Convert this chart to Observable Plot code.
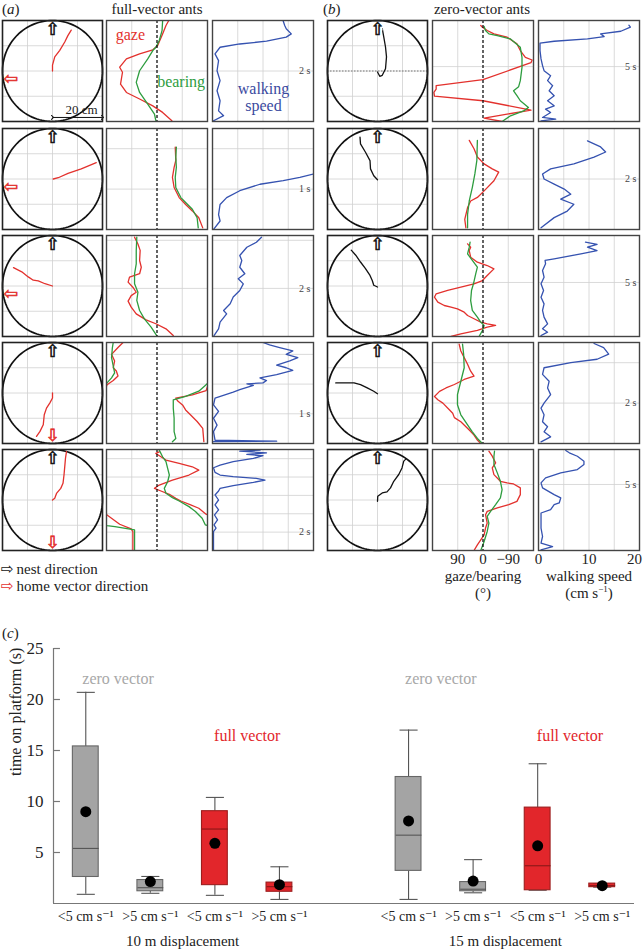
<!DOCTYPE html>
<html><head><meta charset="utf-8">
<script src="https://cdn.jsdelivr.net/npm/d3@7"></script>
<script src="https://cdn.jsdelivr.net/npm/@observablehq/plot@0.6"></script>
<style>
body{margin:0;background:#fff;}
#root{position:relative;width:643px;height:949px;overflow:hidden;font-family:"Liberation Serif","DejaVu Serif",serif;color:#222;background:#fff;}
.lbl{position:absolute;transform:translate(-50%,-50%);white-space:nowrap;line-height:1;}
.lft{position:absolute;transform:translate(0,-50%);white-space:nowrap;line-height:1;}
.arw{font-family:"DejaVu Sans",sans-serif;display:inline-block;margin-right:3px;}
</style></head><body><div id="root"></div><script>
// ---------- panel (a): full-vector ants ----------
const aDur = [4, 2.5, 4.2, 3.4, 11];
const aStep = [2, 1, 2, 1, 2];
const aHomeDir = [190, 190, 190, 270, 270];
const aTraj1 = [[0,0],[0,2.3],[0.9,5.6],[2.9,8.2],[4.9,11.5],[6.2,14.1],[7.5,16.2]];
const aTraj2 = [[0.3,0],[2.3,0.5],[6.2,2.2],[11.5,4.0],[17.5,6.5]];
const aTraj3 = [[0,0],[-3.0,0.9],[-5.7,2.0],[-7.7,2.3],[-9.7,3.6],[-12.3,5.6],[-15.6,7.3]];
const aTraj4 = [[0,0],[0,-2.0],[-1.1,-4.0],[-2.4,-6.0],[-3.3,-8.6],[-3.7,-12.6],[-5.0,-15.2],[-6.4,-17.2]];
const aTraj5 = [[0,0],[0.9,0.7],[1.6,2.6],[3.3,4.6],[4.2,6.6],[4.6,9.9],[4.9,13.2],[5.2,16.6],[5.6,19.2]];
// [time s, angle deg]
const aGaze1 = [[0.03,-53],[0.36,-20],[0.62,15],[0.89,62],[1.15,109],[1.48,130],[1.95,123],[2.15,133],[2.48,109],[2.68,62],[2.84,15],[3.0,-2],[3.47,-20],[3.8,-32],[3.98,-41]];
const aBear1 = [[0.03,4],[0.29,9],[0.69,33],[1.15,62],[1.55,74],[2.01,62],[2.48,33],[2.81,15],[2.94,4],[3.21,-8],[3.6,-18],[3.98,-20]];
const aGaze2 = [[0.04,-163],[0.29,-149],[0.46,-126],[0.62,-102],[0.79,-79],[1.04,-61],[1.29,-55],[1.54,-61],[1.71,-67],[2.04,-65]];
const aBear2 = [[0.04,-147],[0.29,-143],[0.5,-126],[0.67,-102],[0.79,-85],[1.04,-67],[1.29,-65],[1.54,-69],[1.79,-67],[2.04,-69]];
const aGaze3 = [[0.04,-58],[0.32,-32],[0.53,4],[0.69,39],[0.94,74],[1.22,92],[1.47,103],[1.70,92],[1.84,74],[2.05,86],[2.26,103],[2.47,98],[2.61,62],[2.88,56],[3.16,62],[3.58,60],[3.85,68],[4.13,80]];
const aBear3 = [[0.04,1],[0.39,21],[0.73,45],[1.08,62],[1.50,72],[1.84,68],[2.19,80],[2.61,80],[3.02,74],[3.58,74],[4.13,72]];
const aGaze4 = [[0.06,-167],[0.51,-163],[0.74,-143],[0.96,-120],[1.13,-102],[1.30,-91],[1.44,-73],[1.53,-67],[1.64,-126],[1.78,-175],[1.98,178],[2.12,156],[2.27,139],[2.44,145],[2.55,156],[2.78,151],[3.0,162],[3.23,139],[3.4,121]];
const aBear4 = [[0.06,-55],[0.17,-67],[0.40,-61],[0.85,-61],[1.19,-58],[1.47,-58],[1.59,-102],[1.76,-149],[1.98,-175],[2.04,178],[2.21,162],[2.38,151],[2.61,156],[2.89,162],[3.23,159],[3.4,156]];
const aGaze5 = [[0.07,86],[2.06,86],[2.35,92],[2.86,133],[3.87,178],[3.95,-175],[4.60,-149],[4.96,-120],[5.39,-85],[5.68,-67],[6.12,-44],[6.48,-14],[6.77,9],[7.13,-8],[7.67,-55],[8.22,-114],[8.76,-149],[9.12,-126],[9.48,-79],[9.85,-32],[10.21,-14],[10.57,4],[10.75,-8]];
const aBear5 = [[0.07,80],[2.24,80],[2.6,150],[2.72,178],[2.8,-172],[3.51,-161],[4.24,-137],[4.78,-114],[5.39,-79],[5.76,-55],[6.23,-32],[6.77,-26],[7.49,-38],[8.22,-44],[8.94,-38],[9.67,-32],[10.21,-20],[10.93,-8]];
// [time s, speed cm/s]
const aSpeed1 = [[0.03,0.2],[0.23,2.2],[0.42,1.2],[0.82,1.5],[1.22,0.9],[1.62,1.5],[2.01,0.9],[2.41,1.2],[2.68,0.5],[2.94,1.5],[3.07,5.4],[3.18,10.7],[3.34,14.6],[3.47,15.6],[3.67,14.6],[3.8,14.3],[3.98,14.0]];
const aSpeed2 = [[0,0.2],[0.21,1.5],[0.37,1.2],[0.62,1.5],[0.79,2.8],[0.96,5.4],[1.12,9.4],[1.21,14.0],[1.29,17.3],[1.39,20.5]];
const aSpeed3 = [[0.04,0.3],[0.32,1.2],[0.6,1.5],[0.94,2.8],[1.08,2.2],[1.36,3.5],[1.64,4.1],[1.91,5.4],[2.19,6.1],[2.40,5.1],[2.61,6.4],[2.88,5.4],[3.16,5.8],[3.37,5.4],[3.71,6.8],[3.92,8.7],[4.13,9.7]];
const aSpeed4 = [[0.06,0.2],[0.08,12.7],[0.11,0.5],[0.40,0.2],[0.62,0.9],[0.85,0.2],[1.08,1.2],[1.30,0.2],[1.53,0.5],[1.73,4.1],[1.81,5.4],[1.96,8.1],[2.01,6.8],[2.04,10.0],[2.12,10.7],[2.21,9.4],[2.32,12.7],[2.38,14.0],[2.46,15.9],[2.55,14.6],[2.64,12.7],[2.78,15.3],[2.89,16.9],[3.0,14.6],[3.12,15.9],[3.23,13.3],[3.32,11.3],[3.4,10.0]];
const aSpeed5 = [[0.07,0.2],[2.06,0.2],[2.43,0.7],[2.79,0.3],[3.33,1.0],[3.87,0.4],[4.42,1.2],[4.96,0.5],[5.50,1.2],[6.05,0.5],[6.48,1.2],[6.77,1.5],[7.06,4.1],[7.42,8.1],[7.67,10.4],[7.86,8.7],[8.04,4.1],[8.22,1.5],[8.51,0.5],[9.01,0.2],[9.30,1.5],[9.67,4.1],[10.03,8.1],[10.32,10.0],[10.46,6.8],[10.64,10.7],[10.82,5.4],[10.93,9.4]];

// ---------- panel (b): zero-vector ants ----------
const bDur = [9.2, 4, 9.35, 5.0, 7.65];
const bStep = [5, 2, 5, 2, 5];
const bTraj1 = [[0,-0.4],[0.9,-2.1],[1.9,-1.7],[3.2,0.9],[3.6,5.6],[3.2,9.5],[2.5,13.5],[1.9,16.8]];
const bTraj2 = [[0,-0.3],[-1.5,1.3],[-2.8,4.0],[-3.0,7.3],[-4.8,10.6],[-6.8,13.9],[-7.0,16.6]];
const bTraj3 = [[0,-0.4],[-1.5,0.3],[-2.1,2.2],[-3.0,4.2],[-4.8,6.9],[-6.8,9.5],[-8.7,12.2],[-10.5,14.2]];
const bTraj4 = [[0,-0.3],[-1.5,0.7],[-4.1,2.0],[-6.8,3.3],[-9.4,4.0],[-12.1,4.0],[-14.7,4.0],[-16.7,4.0]];
const bTraj5 = [[0,-0.5],[0.1,1.5],[1.9,2.8],[3.8,3.2],[5.2,4.8],[6.5,7.4],[8.5,10.1],[9.8,12.7],[10.5,15.4],[11.5,16.4]];
const bGaze1 = [[0,-68],[0.30,-4],[0.67,-86],[1.04,-171],[1.89,0],[2.31,173],[2.65,175],[2.95,167],[3.26,167],[3.81,0],[5.36,-171],[5.60,-175],[5.85,-151],[6.46,-133],[7.07,-121],[7.68,-86],[7.98,-39],[8.29,-15],[8.59,2],[8.74,8]];
const bBear1 = [[0,-68],[0.52,-98],[0.97,-145],[1.28,-162],[1.89,-133],[2.35,-121],[2.80,-109],[3.17,-127],[3.72,-133],[4.93,-139],[5.85,-139],[6.76,-133],[7.52,-98],[7.83,-51],[7.98,-21],[8.29,-9],[8.65,-4]];
const bGaze2 = [[0.07,61],[0.4,65],[0.87,55],[1.13,44],[1.27,20],[1.53,-4],[1.93,-39],[2.27,-56],[2.4,-33],[2.6,-4],[2.87,20],[3.2,32],[3.53,49]];
const bBear2 = [[0.07,55],[0.6,55],[1.13,49],[1.67,38],[2.2,29],[2.73,22],[3.53,20]];
const bGaze3 = [[0,114],[0.25,79],[0.56,20],[0.86,-15],[1.02,-45],[1.17,-15],[1.33,8],[1.64,32],[1.94,55],[2.25,67],[2.56,91],[2.72,114],[2.87,138],[3.18,161],[3.64,173],[3.95,167],[4.26,126],[4.57,79],[4.88,32],[5.18,2],[5.65,-15],[6.26,-39],[6.57,-15],[6.88,20],[7.34,44],[7.96,49],[8.27,44],[8.58,55]];
const bBear3 = [[0,14],[0.56,2],[1.02,-4],[1.33,8],[1.79,20],[2.41,38],[3.33,44],[4.26,41],[4.88,34],[5.80,26],[6.42,20],[7.04,38],[7.65,55],[8.27,49],[8.73,46]];
const bGaze4 = [[0,8],[0.17,20],[0.42,32],[0.67,49],[1.08,79],[1.28,102],[1.5,108],[1.67,120],[2.0,143],[2.17,161],[2.33,173],[2.58,155],[2.75,132],[2.92,102],[3.17,67],[3.33,32],[3.58,44],[3.92,55],[4.25,67],[4.58,79],[4.92,85]];
const bBear4 = [[0,2],[0.25,20],[0.58,38],[0.92,55],[1.42,79],[1.92,91],[2.42,91],[3.08,79],[3.75,67],[4.42,69],[4.92,73]];
const bGaze5 = [[0,32],[0.43,20],[0.81,8],[1.19,-4],[1.70,-9],[2.08,-15],[2.71,-9],[2.96,-15],[3.22,-51],[3.47,-92],[3.72,-121],[4.23,-133],[4.74,-133],[5.04,-109],[5.12,-86],[5.24,-62],[5.75,-39],[6.26,-33],[6.64,-45],[7.14,-33],[7.52,-21]];
const bBear5 = [[0,8],[0.68,-4],[1.44,-15],[2.08,-21],[2.58,-15],[2.96,-27],[3.47,-45],[3.98,-62],[4.61,-68],[5.24,-62],[5.88,-51],[6.51,-39],[7.14,-39],[7.52,-41]];
const bSpeed1 = [[0.06,0.5],[0.21,3.4],[0.37,0.8],[0.82,2.4],[1.13,1.4],[1.43,3.1],[1.89,1.8],[2.35,3.1],[2.80,2.1],[3.26,2.8],[3.72,1.8],[4.17,2.4],[4.63,1.1],[5.09,0.8],[5.70,0.5],[6.46,0.3],[7.13,0.3],[7.31,3.1],[7.52,9.7],[7.74,13.0],[7.98,12.3],[8.22,16.3],[8.59,18.2],[8.77,17.9]];
const bSpeed2 = [[0.07,0.5],[0.47,3.1],[0.73,5.7],[1.0,7.0],[1.2,4.4],[1.4,6.4],[1.6,5.1],[1.8,3.1],[2.0,1.1],[2.2,0.8],[2.4,2.4],[2.6,7.0],[2.87,11.0],[3.07,13.3],[3.27,12.3],[3.51,9.7]];
const bSpeed3 = [[0.09,0.5],[0.4,1.8],[0.71,0.8],[1.17,1.8],[1.79,1.1],[2.41,0.8],[3.02,1.1],[3.64,0.5],[4.26,1.0],[4.88,0.5],[5.49,1.1],[6.11,0.8],[6.73,1.4],[7.04,1.3],[7.19,3.1],[7.65,8.4],[7.96,11.6],[8.27,9.7],[8.52,11.6],[8.73,9.3]];
const bSpeed4 = [[0.08,0.5],[0.33,2.4],[0.58,1.1],[0.83,1.8],[1.08,0.8],[1.42,1.1],[1.75,0.5],[2.0,1.1],[2.42,2.4],[2.75,1.8],[3.08,2.1],[3.42,0.8],[3.75,1.1],[4.0,6.4],[4.17,11.6],[4.42,13.9],[4.75,12.9],[4.95,11.0]];
const bSpeed5 = [[0.05,0.5],[0.3,2.8],[0.56,0.5],[1.06,0.8],[1.70,0.5],[2.46,0.5],[2.84,0.5],[3.09,2.4],[3.47,3.1],[3.60,4.1],[3.98,4.4],[4.23,3.1],[4.74,0.8],[5.12,0.5],[5.50,1.4],[5.88,4.4],[6.13,7.7],[6.51,9.0],[6.76,9.0],[7.14,7.7],[7.40,6.1],[7.57,5.4]];

// ---------- panel (c): time on platform ----------
const boxDisp   = ["10 m displacement","10 m displacement","10 m displacement","10 m displacement","15 m displacement","15 m displacement","15 m displacement","15 m displacement"];
const boxVector = ["zero","zero","full","full","zero","zero","full","full"];
const boxSpeed  = ["<5 cm s⁻¹",">5 cm s⁻¹","<5 cm s⁻¹",">5 cm s⁻¹","<5 cm s⁻¹",">5 cm s⁻¹","<5 cm s⁻¹",">5 cm s⁻¹"];
const boxLow  = [0.9, 1.0, 0.8, 0.4, 0.4, 1.05, 1.3, 1.6];
const boxQ1   = [2.6, 1.2, 1.8, 1.15, 3.2, 1.2, 1.3, 1.6];
const boxMed  = [5.4, 1.55, 7.3, 1.65, 6.7, 1.4, 3.7, 1.75];
const boxQ3   = [15.4, 2.3, 9.05, 2.05, 12.4, 2.1, 9.4, 1.95];
const boxHigh = [20.7, 2.65, 10.4, 3.6, 17.0, 4.3, 13.7, 1.95];
const boxMean = [9.0, 2.15, 5.9, 1.85, 8.1, 2.2, 5.65, 1.75];
const yTicksC = [5, 10, 15, 20, 25];

// ---------- drawing ----------
const FONT = '"Liberation Serif","DejaVu Serif",serif';
const AFONT = '"DejaVu Sans",sans-serif';
const RED = "#e3312d", GREEN = "#2e9d3f", BLUE = "#3552b0", GRID = "#d0d0d0";
const root = document.getElementById("root");
function place(node, left, top){ node.style.position="absolute"; node.style.left=left+"px"; node.style.top=top+"px"; root.appendChild(node); }
function label(html, x, y, size, cls, color, extra){ const d=document.createElement("div"); d.className=cls||"lbl"; d.innerHTML=html; d.style.left=x+"px"; d.style.top=y+"px"; d.style.fontSize=size+"px"; d.style.color=color||"#222"; if(extra) d.style.cssText+=extra; root.appendChild(d); }

function wrapSplit(pairs){
  const out=[]; let seg=0;
  pairs.forEach(([t,v],i)=>{
    if(i>0){
      const [t0,v0]=pairs[i-1];
      if(Math.abs(v-v0)>180){
        const e=v0<0?-180:180, va=v0<0?v-360:v+360;
        const tm=t0+(e-v0)/(va-v0)*(t-t0);
        out.push({t:tm,v:e,seg}); seg++; out.push({t:tm,v:-e,seg});
      }
    }
    out.push({t,v,seg});
  });
  return out;
}
const ring = d3.range(0,361,3).map(a=>({x:20*Math.cos(a*Math.PI/180), y:20*Math.sin(a*Math.PI/180)}));
const style = {"font-family":FONT, "overflow":"visible", "background":"transparent", "color":"#222"};
const tickList = (T,s)=>d3.range(s, T-1e-6, s);

function circlePlot(traj, color, homeDir, extra){
  const nest=[{x:16.5*Math.cos(Math.PI/2), y:16.5*Math.sin(Math.PI/2)}];
  const home=homeDir==null?[]:[{x:17*Math.cos(homeDir*Math.PI/180), y:17*Math.sin(homeDir*Math.PI/180)}];
  const homeGlyph = homeDir===270?"⇩":"⇦";
  return Plot.plot({width:102,height:103,margin:1,x:{domain:[-20,20],axis:null},y:{domain:[-20,20],axis:null},style,
    marks:[
      Plot.gridX([-10,0,10],{stroke:GRID,strokeOpacity:1,strokeWidth:0.8}),
      Plot.gridY([-10,0,10],{stroke:GRID,strokeOpacity:1,strokeWidth:0.8}),
      ...(extra&&extra.before||[]),
      Plot.line(ring,{x:"x",y:"y",stroke:"#111",strokeWidth:1.7}),
      Plot.line(traj,{x:d=>d[0],y:d=>d[1],stroke:color,strokeWidth:1.3}),
      Plot.dot(nest,{x:"x",y:"y",r:5,fill:"white"}),
      Plot.text(nest,{x:"x",y:"y",text:()=>"⇧",fill:"#111",stroke:"#111",strokeWidth:0.6,fontSize:17,fontFamily:AFONT}),
      Plot.dot(home,{x:"x",y:"y",r:5,fill:"white"}),
      Plot.text(home,{x:"x",y:"y",text:()=>homeGlyph,fill:RED,stroke:RED,strokeWidth:0.6,fontSize:17,fontFamily:AFONT}),
      ...(extra&&extra.after||[]),
      Plot.frame({stroke:"#222",strokeWidth:1.6})
    ]});
}
function gazePlot(T, step, gaze, bear, extra, axis){
  return Plot.plot({width:103,height:axis?122:103,marginTop:1,marginLeft:1,marginRight:1,marginBottom:axis?20:1,
    x:axis?{domain:[180,-180],label:null}:{domain:[180,-180],axis:null}, y:{domain:[0,T],axis:null}, style,
    marks:[
      Plot.gridX([90,-90],{stroke:GRID,strokeOpacity:1,strokeWidth:0.8}),
      Plot.gridY(tickList(T,step),{stroke:GRID,strokeOpacity:1,strokeWidth:0.8}),
      Plot.line(wrapSplit(gaze),{x:"v",y:"t",z:"seg",stroke:RED,strokeWidth:1.3,clip:true}),
      Plot.line(wrapSplit(bear),{x:"v",y:"t",z:"seg",stroke:GREEN,strokeWidth:1.3,clip:true}),
      Plot.ruleX([0],{stroke:"#111",strokeDasharray:"3,2",strokeWidth:1.3}),
      Plot.frame({stroke:"#444",strokeWidth:1.4}),
      ...(extra||[]),
      axis?Plot.axisX([90,0,-90],{label:null,tickSize:0,tickPadding:3,fontSize:15,fill:"#222",tickFormat:d=>d<0?"−"+(-d):String(d)}):null
    ]});
}
function speedPlot(T, step, speed, extra, axis){
  return Plot.plot({width:103,height:axis?122:103,marginTop:1,marginLeft:1,marginRight:1,marginBottom:axis?20:1,
    x:axis?{domain:[0,20],label:null}:{domain:[0,20],axis:null}, y:{domain:[0,T],axis:null}, style,
    marks:[
      Plot.gridX([5,10,15],{stroke:GRID,strokeOpacity:1,strokeWidth:0.8}),
      Plot.gridY(tickList(T,step),{stroke:GRID,strokeOpacity:1,strokeWidth:0.8}),
      Plot.line(speed,{x:d=>d[1],y:d=>d[0],stroke:BLUE,strokeWidth:1.3,clip:true}),
      Plot.text([step],{y:d=>d,frameAnchor:"right",text:d=>d+" s",textAnchor:"end",dx:-3,fontSize:10,fill:"#444"}),
      Plot.frame({stroke:"#444",strokeWidth:1.4}),
      ...(extra||[]),
      axis?Plot.axisX([0,10],{label:null,tickSize:0,tickPadding:3,fontSize:15,fill:"#222"}):null,
      axis?Plot.axisX([20],{label:null,tickSize:0,tickPadding:3,fontSize:15,fill:"#222",dx:-5}):null
    ]});
}

const rowTop = [20,128,235,342,449];
const aT=[aTraj1,aTraj2,aTraj3,aTraj4,aTraj5], aG=[aGaze1,aGaze2,aGaze3,aGaze4,aGaze5], aB=[aBear1,aBear2,aBear3,aBear4,aBear5], aS=[aSpeed1,aSpeed2,aSpeed3,aSpeed4,aSpeed5];
const bT=[bTraj1,bTraj2,bTraj3,bTraj4,bTraj5], bG=[bGaze1,bGaze2,bGaze3,bGaze4,bGaze5], bB=[bBear1,bBear2,bBear3,bBear4,bBear5], bS=[bSpeed1,bSpeed2,bSpeed3,bSpeed4,bSpeed5];

for(let i=0;i<5;i++){
  const top=rowTop[i]-1;
  const cExtra = i===0 ? {after:[
    Plot.link([20],{x1:0,x2:d=>d,y1:-18.4,y2:-18.4,stroke:"#111",strokeWidth:1,markerStart:"arrow",markerEnd:"arrow"}),
    Plot.text(["20 cm"],{x:11.6,y:-15.2,text:d=>d,fontSize:13,fill:"#222"})
  ]} : null;
  place(circlePlot(aT[i],RED,aHomeDir[i],cExtra),1,top);
  const gExtra = i===0 ? [
    Plot.text(["gaze"],{x:95,y:3.45,text:d=>d,fill:RED,fontSize:16}),
    Plot.text(["bearing"],{x:-86,y:1.55,text:d=>d,fill:GREEN,fontSize:16})
  ] : null;
  place(gazePlot(aDur[i],aStep[i],aG[i],aB[i],gExtra,false),105,top);
  const sExtra = i===0 ? [
    Plot.text(["walking"],{x:10.1,y:1.3,text:d=>d,fill:"#3a4aa0",fontSize:16}),
    Plot.text(["speed"],{x:10.1,y:0.6,text:d=>d,fill:"#3a4aa0",fontSize:16})
  ] : null;
  place(speedPlot(aDur[i],aStep[i],aS[i],sExtra,false),211,top);

  const bcExtra = i===0 ? {before:[Plot.ruleY([0],{stroke:"#777",strokeDasharray:"1.5,1.5",strokeWidth:1})]} : null;
  place(circlePlot(bT[i],"#111",null,bcExtra),326,top);
  place(gazePlot(bDur[i],bStep[i],bG[i],bB[i],null,i===4),431,top);
  place(speedPlot(bDur[i],bStep[i],bS[i],null,i===4),537,top);
}

// headers and legends
label("(<i>a</i>)",2,9,15,"lft");
label("full-vector ants",157,9,15);
label("(<i>b</i>)",323,9,15,"lft");
label("zero-vector ants",482,9,15);
label('<span class="arw" style="color:#111">⇨</span>nest direction',1,569,15,"lft");
label('<span class="arw" style="color:'+RED+'">⇨</span>home vector direction',1,586,15,"lft");
label("gaze/bearing",483,576,15);
label("(°)",483,593,15);
label("walking speed",589,576,15);
label("(cm s<sup style='font-size:9px'>−1</sup>)",589,593,15);
label("(<i>c</i>)",2,633,15,"lft");

// panel (c)
const slots = ["10 m displacement|zero|<5 cm s⁻¹","10 m displacement|zero|>5 cm s⁻¹","10 m displacement|full|<5 cm s⁻¹","10 m displacement|full|>5 cm s⁻¹","",
               "15 m displacement|zero|<5 cm s⁻¹","15 m displacement|zero|>5 cm s⁻¹","15 m displacement|full|<5 cm s⁻¹","15 m displacement|full|>5 cm s⁻¹"];
const boxes = boxDisp.map((disp,i)=>({disp,vector:boxVector[i],speed:boxSpeed[i],low:boxLow[i],q1:boxQ1[i],med:boxMed[i],q3:boxQ3[i],high:boxHigh[i],mean:boxMean[i],
  slot:slots.indexOf(disp+"|"+boxVector[i]+"|"+boxSpeed[i])}));
const groups = Array.from(d3.group(boxes,d=>d.disp),([disp,v])=>({disp,x:d3.mean(v,d=>d.slot),
  zx:d3.mean(v.filter(d=>d.vector==="zero"),d=>d.slot), fx:d3.mean(v.filter(d=>d.vector==="full"),d=>d.slot)}));
const zeroB = boxes.filter(d=>d.vector==="zero"), fullB = boxes.filter(d=>d.vector==="full");
const W2=0.2, C2=0.14, xmin=-0.5;
const chartC = Plot.plot({width:643,height:349,marginLeft:53,marginRight:9,marginTop:48,marginBottom:46,
  x:{domain:[xmin,slots.length-0.5],axis:null}, y:{domain:[0,25]},
  style:{...style,"font-size":"14px"},
  marks:[
    Plot.ruleY([0],{stroke:"#777",strokeWidth:1.2}),
    Plot.ruleX([xmin],{y1:0,y2:25,stroke:"#777",strokeWidth:1.2}),
    Plot.link(yTicksC,{x1:xmin,x2:xmin+0.1,y1:d=>d,y2:d=>d,stroke:"#777",strokeWidth:1.2}),
    Plot.axisY(yTicksC,{label:null,tickSize:0,tickPadding:10,fontSize:17,fill:"#222"}),
    Plot.ruleX(boxes,{x:"slot",y1:"low",y2:"q1",stroke:"#555",strokeWidth:1.1}),
    Plot.ruleX(boxes,{x:"slot",y1:"q3",y2:"high",stroke:"#555",strokeWidth:1.1}),
    Plot.link(boxes,{x1:d=>d.slot-C2,x2:d=>d.slot+C2,y1:"low",y2:"low",stroke:"#555",strokeWidth:1.1}),
    Plot.link(boxes,{x1:d=>d.slot-C2,x2:d=>d.slot+C2,y1:"high",y2:"high",stroke:"#555",strokeWidth:1.1}),
    Plot.rect(zeroB,{x1:d=>d.slot-W2,x2:d=>d.slot+W2,y1:"q1",y2:"q3",fill:"#a4a4a4",stroke:"#666",strokeWidth:1.1}),
    Plot.rect(fullB,{x1:d=>d.slot-W2,x2:d=>d.slot+W2,y1:"q1",y2:"q3",fill:"#e2262b",stroke:"#9c1d1d",strokeWidth:1.1}),
    Plot.link(zeroB,{x1:d=>d.slot-W2,x2:d=>d.slot+W2,y1:"med",y2:"med",stroke:"#555",strokeWidth:1.1}),
    Plot.link(fullB,{x1:d=>d.slot-W2,x2:d=>d.slot+W2,y1:"med",y2:"med",stroke:"#8a1717",strokeWidth:1.1}),
    Plot.dot(boxes,{x:"slot",y:"mean",r:5.5,fill:"#000"}),
    Plot.text(boxes,{x:"slot",y:0,dy:13,text:"speed",fontSize:14,fill:"#222"}),
    Plot.text(groups,{x:"x",y:0,dy:38,text:"disp",fontSize:15,fill:"#222"}),
    Plot.text(groups,{x:"zx",y:22,text:()=>"zero vector",fontSize:16,fill:"#a8a8a8"}),
    Plot.text(groups,{x:"fx",y:16.4,text:()=>"full vector",fontSize:16,fill:"#e2262b"}),
    Plot.text(["time on platform (s)"],{frameAnchor:"left",y:12.5,dx:-38,rotate:-90,text:d=>d,fontSize:16,fill:"#222"})
  ]});
place(chartC,0,600);
</script></body></html>
